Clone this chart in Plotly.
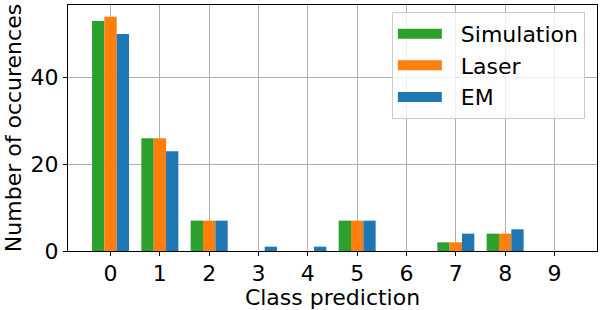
import plotly.graph_objects as go

classes = [0, 1, 2, 3, 4, 5, 6, 7, 8, 9]
simulation = [53, 26, 7, 0, 0, 7, 0, 2, 4, 0]
laser = [54, 26, 7, 0, 0, 7, 0, 2, 4, 0]
em = [50, 23, 7, 1, 1, 7, 0, 4, 5, 0]
series_names = ["Simulation", "Laser", "EM"]
colors = ["#2ca02c", "#ff7f0e", "#1f77b4"]
y_ticks = [0, 20, 40]

fig = go.Figure()
for name, vals, c in zip(series_names, [simulation, laser, em], colors):
    fig.add_trace(go.Bar(x=classes, y=vals, name=name, legendgroup=name, showlegend=False,
                         marker=dict(color=c, line=dict(width=0))))
# legend entries drawn as wide patches (like the reference legend handles)
for name, c in zip(series_names, colors):
    fig.add_trace(go.Scatter(x=[None], y=[None], mode="lines",
                             name="\u00a0\u00a0" + name, legendgroup=name,
                             line=dict(color=c, width=15)))

font = "DejaVu Sans, Liberation Sans, sans-serif"
fig.update_layout(
    width=600, height=310,
    margin=dict(l=68, r=3, t=5, b=59),
    barmode="group", bargap=0.25, bargroupgap=0,
    plot_bgcolor="white", paper_bgcolor="white",
    font=dict(family=font, size=22, color="black"),
    showlegend=True,
    legend=dict(
        x=0.977, y=0.972, xanchor="right", yanchor="top",
        bgcolor="rgba(255,255,255,0.8)", bordercolor="#cccccc", borderwidth=1,
        font=dict(size=22, family=font), tracegroupgap=0, itemwidth=44,
    ),
    xaxis=dict(
        range=[-0.8625, 9.8625], tickmode="array", tickvals=classes,
        ticktext=[str(c) for c in classes], automargin=False,
        showline=True, linecolor="black", linewidth=1.2, mirror=True,
        ticks="outside", ticklen=4, tickcolor="black", ticklabelstandoff=-2,
        showgrid=True, gridcolor="#b0b0b0", gridwidth=1,
        zeroline=False,
        title=dict(text="Class prediction", font=dict(size=22), standoff=2),
    ),
    yaxis=dict(
        range=[0, 56.7], tickmode="array", tickvals=y_ticks, automargin=False,
        showline=True, linecolor="black", linewidth=1.2, mirror=True,
        ticks="outside", ticklen=4, tickcolor="black",
        showgrid=True, gridcolor="#b0b0b0", gridwidth=1,
        zeroline=False,
        title=dict(text="Number of occurences", font=dict(size=22), standoff=2),
    ),
)
fig.write_html("out.html", config={"responsive": False, "displayModeBar": False},
               post_script="document.body.style.margin='0px';")
